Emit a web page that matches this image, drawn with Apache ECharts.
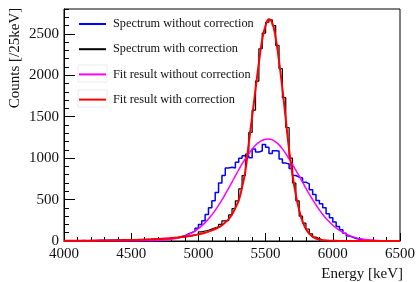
<!DOCTYPE html>
<html>
<head>
<meta charset="utf-8">
<script src="https://cdn.jsdelivr.net/npm/echarts@6/dist/echarts.min.js"></script>
<style>
  html, body { margin: 0; padding: 0; background: #fff; }
  #chart { width: 418px; height: 282px; }
</style>
</head>
<body>
<div id="chart"></div>
<script>
// histogram binning (keV)
const binLow = 4000
const binWidth = 25

// counts per 25 keV bin, 4000..6475
const countsWithout = [
  2, 3, 2, 4, 3, 5, 4, 6, 5, 7, 6, 8, 7, 9, 8, 10, 9, 11, 10, 12, 13, 12, 15, 14, 17, 18, 21, 20, 24, 26, 28, 31,
  35, 42, 55, 62, 85, 100, 120, 155, 200, 245, 320, 400, 485, 585, 700, 790, 880, 890, 880, 950,
  1000, 1030, 1030, 1005, 1110, 1075, 1085, 1165, 1130, 1055, 1090, 1085, 990, 940, 930, 875, 790,
  770, 760, 710, 690, 620, 560, 490, 450, 400, 330, 280, 230, 175, 135, 95, 60, 45, 30, 22, 15, 10, 8, 6, 4, 3, 2, 1, 1, 1, 0, 0,
]
const countsWith = [
  2, 1, 3, 2, 4, 3, 5, 4, 6, 5, 7, 6, 8, 9, 7, 10, 9, 12, 11, 13, 12, 15, 14, 18, 17, 20, 22, 21, 25, 28, 30, 33,
  36, 40, 44, 50, 55, 62, 70, 85,
  110, 121, 130, 145, 160, 170, 200, 242, 245, 315, 390, 485, 630, 790, 1050, 1310,
  1580, 1930, 2320, 2510, 2640, 2670, 2600, 2360, 2080, 1730, 1370, 1000,
  700, 485, 300, 215, 145, 85, 48, 28, 12, 7, 5, 3, 2, 2, 1, 1, 0, 0, 0, 0, 0, 0, 0, 0, 0, 0, 0, 0, 0, 0, 0, 0,
]

// fit curves sampled at these energies
const fitEnergy = [
  4000, 4050, 4100, 4150, 4200, 4250, 4300, 4350, 4400, 4450, 4500, 4550, 4600, 4650, 4700, 4750, 4800, 4850, 4900, 4950, 5000, 5050, 5100,
  5150, 5175, 5200, 5225, 5250, 5275, 5300, 5325, 5350, 5375, 5400, 5425, 5450, 5475, 5500, 5525, 5550, 5575, 5600, 5625, 5650, 5675,
  5700, 5725, 5750, 5775, 5800, 5825, 5850, 5875, 5900, 5925, 5950,
  6000, 6050, 6100, 6150, 6200, 6250, 6300, 6350, 6400, 6450, 6500,
]
const fitWithout = [
  0, 0, 0, 0, 0, 0, 0, 0, 0, 0, 1, 1, 2, 4, 7, 12, 22, 38, 62, 98, 150, 222, 315,
  430, 495, 565, 637, 710, 785, 860, 930, 995, 1055, 1110, 1155, 1190, 1215, 1228, 1230, 1220, 1195, 1160, 1112, 1055, 990,
  925, 855, 785, 710, 637, 565, 500, 437, 375, 320, 272,
  190, 128, 82, 50, 29, 16, 8, 4, 2, 1, 0,
]
const fitWith = [
  2, 2, 3, 3, 4, 5, 6, 7, 8, 10, 12, 14, 17, 20, 24, 29, 35, 43, 53, 65, 80, 100, 128,
  165, 190, 225, 265, 320, 400, 490, 650, 850, 1180, 1500, 1830, 2150, 2430, 2600, 2675, 2630, 2450, 2170, 1840, 1470, 1100,
  800, 560, 370, 235, 145, 88, 52, 30, 17, 10, 6,
  3, 1, 1, 0, 0, 0, 0, 0, 0, 0, 0,
]

const seriesNames = [
  'Spectrum without correction',
  'Spectrum with correction',
  'Fit result without correction',
  'Fit result with correction',
]

const histPoints = (counts) => {
  const pts = counts.map((c, i) => [binLow + i * binWidth, c])
  pts.push([binLow + counts.length * binWidth, counts[counts.length - 1]])
  return pts
}
const curvePoints = (vals) => vals.map((v, i) => [fitEnergy[i], v])

const font = 'Liberation Serif, Times New Roman, serif'
const plain = (v) => String(v)
const chart = echarts.init(document.getElementById('chart'), null, { renderer: 'canvas' })

const option = {
  animation: false,
  backgroundColor: '#fff',
  grid: {
    left: 64, right: 14, top: 9, bottom: 41,
    show: true, borderColor: '#000', borderWidth: 1, backgroundColor: 'transparent',
  },
  legend: {
    orient: 'vertical',
    left: 78,
    top: 18,
    padding: 0,
    itemWidth: 27,
    itemHeight: 14,
    itemGap: 13.2,
    itemStyle: { opacity: 0 },
    data: seriesNames,
    textStyle: { fontFamily: font, fontSize: 12.3, color: '#111', padding: [0, 0, 0, 2] },
  },
  xAxis: {
    type: 'value',
    min: 4000, max: 6500, interval: 500,
    axisLine: { lineStyle: { color: '#000', width: 1 } },
    axisTick: { inside: true, length: 8, lineStyle: { color: '#000' } },
    minorTick: { show: true, splitNumber: 5, length: 4, lineStyle: { color: '#000' } },
    splitLine: { show: false },
    axisLabel: { fontFamily: font, fontSize: 15, color: '#111', margin: 6, formatter: plain },
  },
  yAxis: [
    {
      type: 'value',
      min: 0, max: 2800, interval: 500,
      axisLine: { show: true, lineStyle: { color: '#000', width: 1 } },
      axisTick: { inside: true, length: 11, lineStyle: { color: '#000' } },
      splitLine: { show: false },
      axisLabel: { fontFamily: font, fontSize: 15, color: '#111', margin: 5, showMaxLabel: false, formatter: plain },
    },
    {
      // minor ticks every 100 counts
      type: 'value',
      min: 0, max: 2800, interval: 100,
      position: 'left',
      axisLine: { show: false },
      axisTick: { inside: true, length: 5, lineStyle: { color: '#000' } },
      splitLine: { show: false },
      axisLabel: { show: false },
    },
  ],
  series: [
    {
      name: seriesNames[0], type: 'line', step: 'end', symbol: 'none',
      lineStyle: { color: '#0000ff', width: 1.5 }, itemStyle: { color: '#0000ff' },
      data: histPoints(countsWithout),
    },
    {
      name: seriesNames[1], type: 'line', step: 'end', symbol: 'none',
      lineStyle: { color: '#000000', width: 1.2 }, itemStyle: { color: '#000000' },
      data: histPoints(countsWith),
    },
    {
      name: seriesNames[2], type: 'line', smooth: true, symbol: 'none',
      lineStyle: { color: '#ff00ff', width: 1.5 }, itemStyle: { color: '#ff00ff' },
      data: curvePoints(fitWithout),
    },
    {
      name: seriesNames[3], type: 'line', smooth: true, symbol: 'none',
      lineStyle: { color: '#ff0000', width: 2 }, itemStyle: { color: '#ff0000' },
      data: curvePoints(fitWith),
    },
  ],
  graphic: [
    {
      type: 'rect', shape: { x: 78, y: 65, width: 29, height: 17 },
      style: { fill: 'none', stroke: '#ececec', lineWidth: 1 }, z: 0,
    },
    {
      type: 'rect', shape: { x: 78, y: 90, width: 29, height: 17 },
      style: { fill: 'none', stroke: '#ececec', lineWidth: 1 }, z: 0,
    },
    {
      type: 'text', x: 15, y: 58, rotation: Math.PI / 2,
      style: {
        text: 'Counts [/25keV]', fontFamily: font, fontSize: 15, fill: '#111',
        textAlign: 'center', textVerticalAlign: 'middle',
      },
    },
    {
      type: 'text', x: 403, y: 274,
      style: {
        text: 'Energy [keV]', fontFamily: font, fontSize: 15, fill: '#111',
        textAlign: 'right', textVerticalAlign: 'middle',
      },
    },
  ],
}

chart.setOption(option)
</script>
</body>
</html>
